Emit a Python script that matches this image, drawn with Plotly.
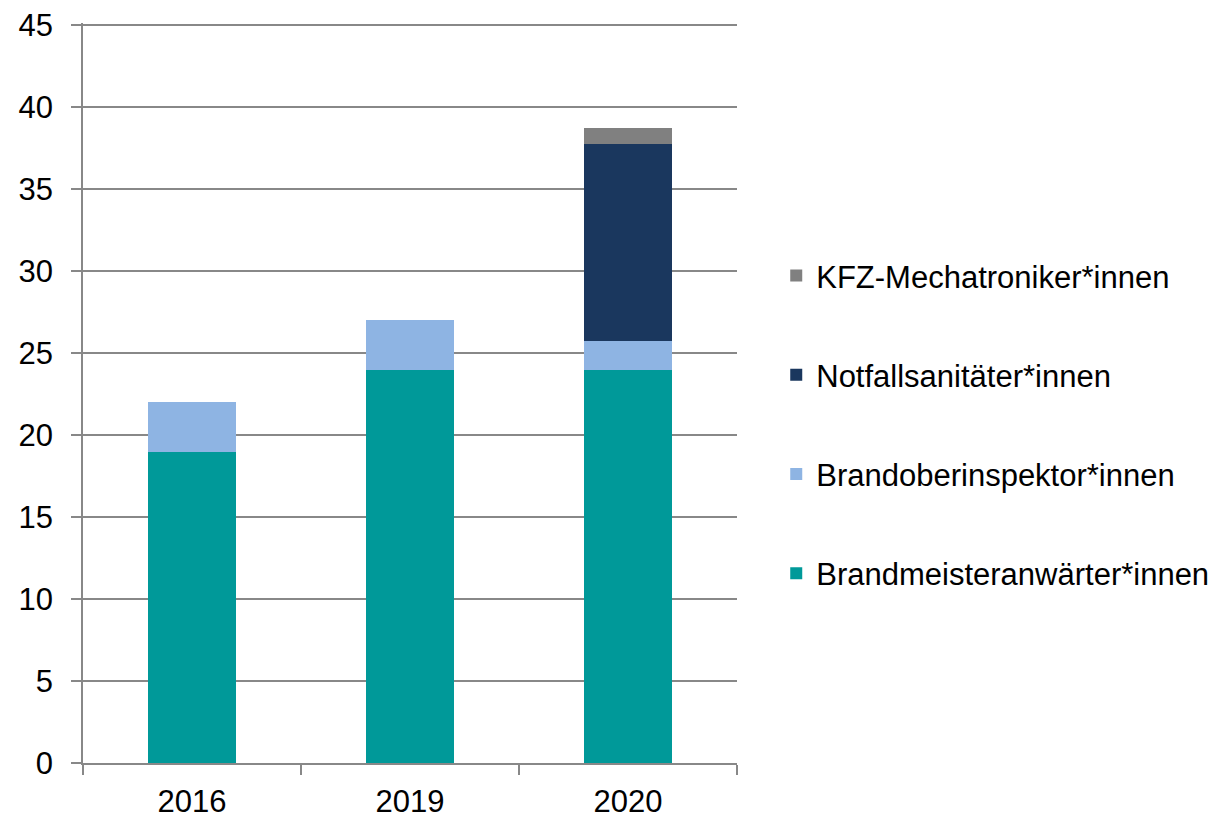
import plotly.graph_objects as go

years = ["2016", "2019", "2020"]
brandmeister = [19, 24, 24]
brandober = [3, 3, 1.75]
notfall = [0, 0, 12]
kfz = [0, 0, 1]
yticks = [0, 5, 10, 15, 20, 25, 30, 35, 40, 45]

series = [
    ("Brandmeisteranwärter*innen", brandmeister, "#009999"),
    ("Brandoberinspektor*innen", brandober, "#8EB4E3"),
    ("Notfallsanitäter*innen", notfall, "#1A375E"),
    ("KFZ-Mechatroniker*innen", kfz, "#808080"),
]

FONT = "Liberation Sans Narrow, Arial Narrow, Liberation Sans, Arial, sans-serif"
FS = 31

fig = go.Figure()
for i, (name, vals, col) in enumerate(series):
    fig.add_trace(go.Bar(x=years, y=vals, name=name, marker_color=col,
                         marker_line_width=0, legendgroup=str(i),
                         legendrank=len(series) - i))

fig.update_layout(
    width=1215, height=816,
    barmode="stack", bargap=0.6,
    plot_bgcolor="white", paper_bgcolor="white",
    margin=dict(l=75, r=486, t=15, b=61, autoexpand=False),
    font=dict(family=FONT, size=FS, color="black"),
    legend=dict(x=1.06, y=0.457, xanchor="left", yanchor="middle",
                traceorder="grouped", tracegroupgap=56,
                font=dict(family=FONT, size=FS, color="black"),
                itemwidth=30),
    showlegend=True,
)
fig.update_yaxes(range=[0, 45.15], tickmode="array", tickvals=yticks,
                 showgrid=True, gridcolor="#888888", gridwidth=1.5,
                 showline=True, linecolor="#888888", linewidth=1.5,
                 ticks="outside", ticklen=10, tickcolor="#888888", tickwidth=1.5,
                 zeroline=False, ticklabelstandoff=12)
fig.update_xaxes(showline=True, linecolor="#888888", linewidth=1.5,
                 ticks="outside", ticklen=10, tickcolor="#888888", tickwidth=1.5,
                 tickson="boundaries", showgrid=False, ticklabelstandoff=10)

fig.write_html("out.html")
